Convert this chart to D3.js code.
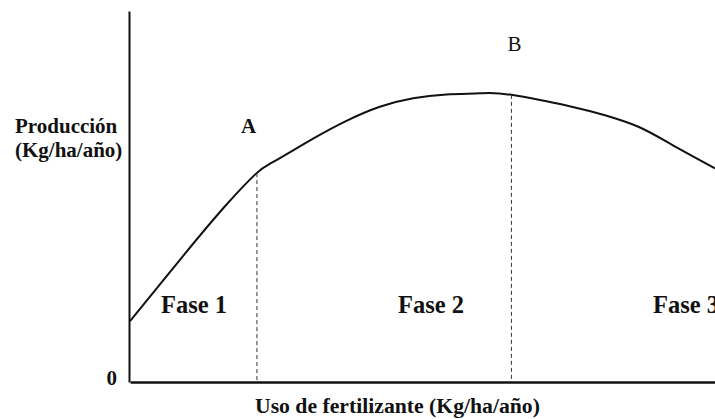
<!DOCTYPE html>
<html>
<head>
<meta charset="utf-8">
<script src="https://cdn.jsdelivr.net/npm/d3@7"></script>
<style>
  html, body { margin: 0; padding: 0; background: #fff; }
  svg { display: block; }
</style>
</head>
<body>
<svg id="chart" width="715" height="419"></svg>
<script>
// uso de fertilizante (x) y producción (y), en unidades relativas 0-100
const fertilizer = [0, 9.4, 16.2, 21.5, 24.8, 31.3, 37.0, 42.7, 48.4, 54.1, 59.8, 65.2, 75.5, 81.2, 86.9, 92.6, 100];
const production = [16.4, 34.6, 47.3, 56.1, 59.6, 65.6, 70.4, 74.2, 76.5, 77.5, 77.8, 77.4, 74.2, 71.9, 68.8, 64.0, 57.6];

// puntos de cambio de fase
const markerLabels = ["A", "B"];
const markerX = [21.7, 65.2];

const phaseLabels = ["Fase 1", "Fase 2", "Fase 3"];
const phaseX = [5.3, 45.8, 89.4];
const phaseY = 18.6;

const yTickValues = [0];

const FONT = "'Liberation Serif', 'Times New Roman', Times, serif";

const svg = d3.select("#chart");

const x = d3.scaleLinear().domain([0, 100]).range([130, 715]);
const y = d3.scaleLinear().domain([0, 100]).range([382, 11]);

// ejes
const yAxis = svg.append("g")
  .attr("transform", "translate(129,0)")
  .call(d3.axisLeft(y).tickValues(yTickValues).tickSize(0).tickSizeOuter(0).tickPadding(12));
yAxis.select(".domain").attr("stroke", "#111").attr("stroke-width", 2);
yAxis.selectAll(".tick text")
  .style("font-family", FONT)
  .attr("font-size", 21)
  .attr("font-weight", "bold")
  .attr("dy", "0.1em")
  .attr("fill", "#111");

const xAxis = svg.append("g")
  .attr("transform", "translate(0,382)")
  .call(d3.axisBottom(x).tickValues([]).tickSizeOuter(0));
xAxis.select(".domain").attr("stroke", "#111").attr("stroke-width", 2.5);

// curva de respuesta
const points = fertilizer.map((f, i) => ({ f: f, p: production[i] }));
const interp = d3.scaleLinear().domain(fertilizer).range(production);

svg.append("path")
  .datum(points)
  .attr("fill", "none")
  .attr("stroke", "#111")
  .attr("stroke-width", 2)
  .attr("d", d3.line().x((d) => x(d.f)).y((d) => y(d.p)).curve(d3.curveNatural));

// líneas punteadas en A y B
svg.selectAll(".marker")
  .data(markerX)
  .enter()
  .append("line")
  .attr("class", "marker")
  .attr("x1", (d) => x(d))
  .attr("x2", (d) => x(d))
  .attr("y1", (d) => y(interp(d)))
  .attr("y2", y(0))
  .attr("stroke", "#333")
  .attr("stroke-width", 1)
  .attr("stroke-dasharray", "4,3");

function label(sel, size, bold) {
  return sel.style("font-family", FONT)
    .attr("font-size", size)
    .attr("font-weight", bold ? "bold" : "normal")
    .attr("fill", "#111");
}

// etiquetas A y B
label(svg.append("text"), 21, true)
  .attr("x", x(markerX[0]) - 16)
  .attr("y", 133)
  .text(markerLabels[0]);

label(svg.append("text"), 21, false)
  .attr("x", x(markerX[1]) - 4)
  .attr("y", 51)
  .text(markerLabels[1]);

// etiquetas de fase
label(svg.selectAll(".phase")
  .data(phaseLabels)
  .enter()
  .append("text")
  .attr("class", "phase"), 24.5, true)
  .attr("x", (d, i) => x(phaseX[i]))
  .attr("y", y(phaseY))
  .text((d) => d);

// títulos de ejes
const yTitle = label(svg.append("text"), 21, true);
yTitle.append("tspan").attr("x", 15).attr("y", 133).text("Producción");
yTitle.append("tspan").attr("x", 15).attr("y", 157).text("(Kg/ha/año)");

label(svg.append("text"), 21.7, true)
  .attr("x", 255)
  .attr("y", 413)
  .text("Uso de fertilizante (Kg/ha/año)");
</script>
</body>
</html>
